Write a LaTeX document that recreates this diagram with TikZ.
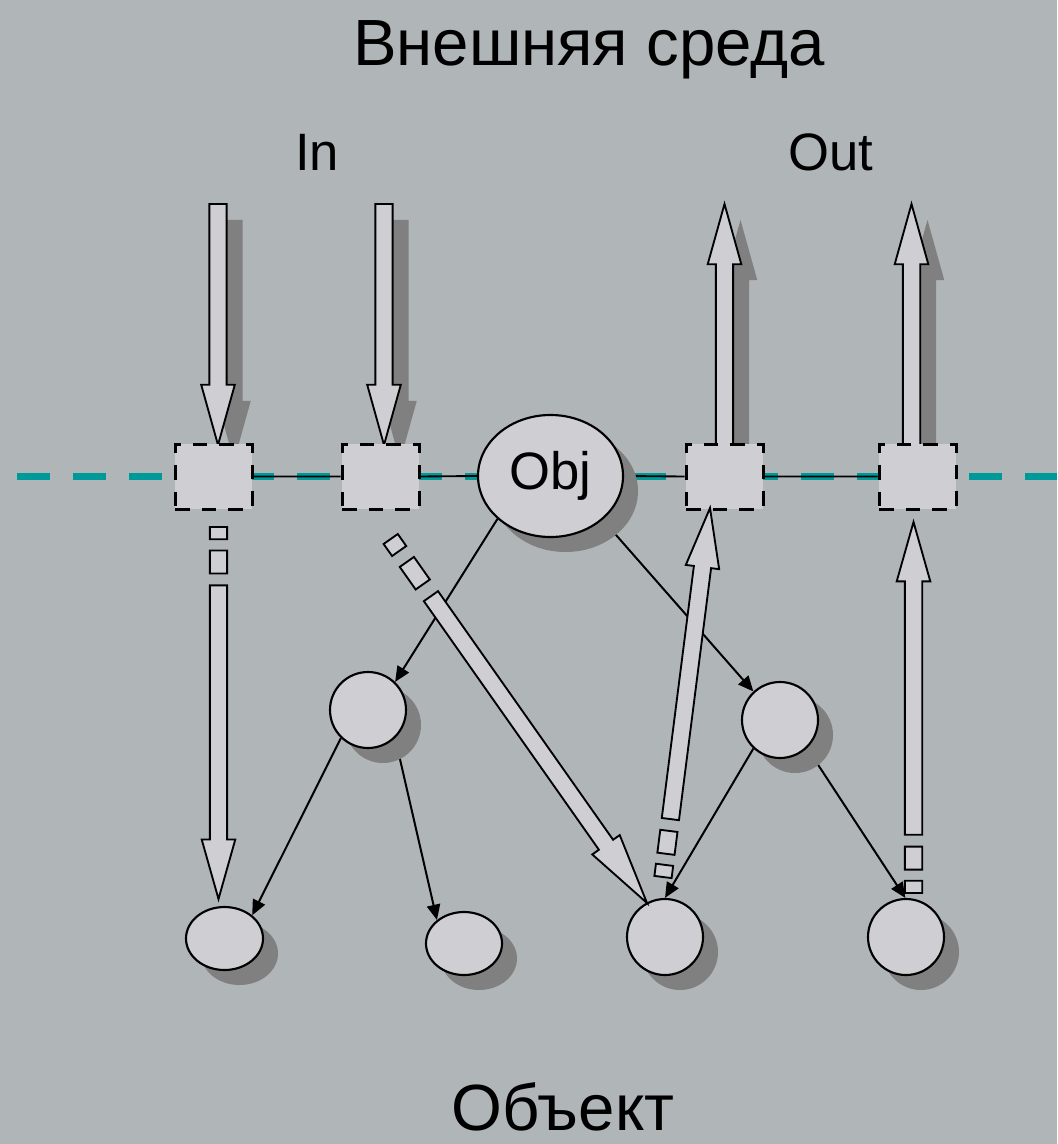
\documentclass[tikz,border=0pt]{standalone}
\usepackage{fontspec}
\setmainfont{Liberation Sans}
\usetikzlibrary{calc,arrows.meta,shadows,shapes.geometric}
\definecolor{bgc}{RGB}{176,181,184}
\definecolor{lite}{RGB}{207,206,210}
\definecolor{shd}{RGB}{128,128,128}
\definecolor{tealc}{RGB}{0,153,153}
\pgfdeclarelayer{bg}
\pgfdeclarelayer{mid}
\pgfsetlayers{bg,mid,main}
\newcommand{\hs}{6.5pt}
\newcommand{\hh}{12.6pt}
\newcommand{\stripedArrow}[2]{%
 \draw[blockst] ($(#1)!\hs!90:(#2)$) -- ($(#1)!0.033!(#2)!\hs!90:(#2)$) -- ($(#1)!0.033!(#2)!\hs!-90:(#2)$) -- ($(#1)!\hs!-90:(#2)$) -- cycle;
 \draw[blockst] ($(#1)!0.063!(#2)!\hs!90:(#2)$) -- ($(#1)!0.125!(#2)!\hs!90:(#2)$) -- ($(#1)!0.125!(#2)!\hs!-90:(#2)$) -- ($(#1)!0.063!(#2)!\hs!-90:(#2)$) -- cycle;
 \draw[blockst] ($(#1)!0.157!(#2)!\hs!90:(#2)$) -- ($(#1)!0.84!(#2)!\hs!90:(#2)$) -- ($(#1)!0.84!(#2)!\hh!90:(#2)$) -- (#2) -- ($(#1)!0.84!(#2)!\hh!-90:(#2)$) -- ($(#1)!0.84!(#2)!\hs!-90:(#2)$) -- ($(#1)!0.157!(#2)!\hs!-90:(#2)$) -- cycle;}
\newcommand{\blockArrow}[3]{%
 \path[#3] ($(#1)!\hs!90:(#2)$) -- ($(#1)!0.75!(#2)!\hs!90:(#2)$) -- ($(#1)!0.75!(#2)!\hh!90:(#2)$) -- (#2) -- ($(#1)!0.75!(#2)!\hh!-90:(#2)$) -- ($(#1)!0.75!(#2)!\hs!-90:(#2)$) -- ($(#1)!\hs!-90:(#2)$) -- cycle;}
\tikzset{
 blockst/.style={draw=black, line width=1.4pt, fill=lite},
 shadowst/.style={fill=shd},
 boxst/.style={draw=black, fill=lite, line width=2.25pt, dash pattern=on 11pt off 9pt, minimum width=57.75pt, minimum height=48.75pt, inner sep=0pt},
 nodest/.style={draw=black, fill=lite, line width=1.6pt, inner sep=0pt, drop shadow={shadow xshift=11.25pt, shadow yshift=-11.25pt, fill=shd, opacity=1}},
 conn/.style={draw=black, line width=1.5pt, -{Triangle[length=11.5pt,width=10pt]}},
 txt/.style={font=\fontsize{39.5}{46}\selectfont, inner sep=0pt, anchor=base},
 bigtxt/.style={font=\fontsize{49}{56}\selectfont, inner sep=0pt, anchor=base},
}
\begin{document}
\begin{tikzpicture}[x=0.75pt, y=-0.75pt]
\useasboundingbox (0,0) rectangle (1057,1144);
% coordinates
\coordinate (tl) at (17,476);
\coordinate (tr) at (1057,476);
\coordinate (u1t) at (218,204);  \coordinate (u1h) at (218,445);
\coordinate (u2t) at (384,204);  \coordinate (u2h) at (384,445);
\coordinate (u3t) at (724.5,445); \coordinate (u3h) at (724.5,204);
\coordinate (u4t) at (911.5,445); \coordinate (u4h) at (911.5,204);
\coordinate (u1ts) at (234,220);  \coordinate (u1hs) at (234,461);
\coordinate (u2ts) at (400,220);  \coordinate (u2hs) at (400,461);
\coordinate (u3ts) at (740.5,461); \coordinate (u3hs) at (740.5,220);
\coordinate (u4ts) at (927.5,461); \coordinate (u4hs) at (927.5,220);
\coordinate (l1t) at (218.5,527); \coordinate (l1h) at (218.5,899);
\coordinate (l2t) at (390.7,539); \coordinate (l2h) at (647,903);
\coordinate (l3t) at (663,877);   \coordinate (l3h) at (710,508);
\coordinate (l4t) at (913.5,893); \coordinate (l4h) at (913.5,522);
% nodes
\node[boxst] (b1) at (213.5,476.5) {};
\node[boxst] (b2) at (380.5,476.5) {};
\node[boxst] (b3) at (724.5,476.5) {};
\node[boxst] (b4) at (917.5,476.5) {};
\node[nodest, ellipse, minimum width=108.75pt, minimum height=91.5pt, font=\fontsize{39.5}{46}\selectfont] (obj) at (550.5,476) {Obj};
\node[nodest, circle, minimum size=57pt] (ml) at (368,710) {};
\node[nodest, circle, minimum size=57pt] (mr) at (780,720) {};
\node[nodest, ellipse, minimum width=57.75pt, minimum height=47.25pt] (e1) at (224.5,938.5) {};
\node[nodest, ellipse, minimum width=57pt, minimum height=47.25pt] (e2) at (464,943.5) {};
\node[nodest, circle, minimum size=57pt] (c3) at (665,937) {};
\node[nodest, circle, minimum size=57pt] (c4) at (906,937) {};
% texts
\node[bigtxt] (title) at (589,66) {Внешняя среда};
\node[txt] (in) at (317,171) {In};
\node[txt] (out) at (831,171) {Out};
\node[bigtxt] (objekt) at (563,1130) {Объект};
\begin{pgfonlayer}{bg}
\fill[bgc] (0,0) rectangle (1057,1144);
\draw[tealc, line width=5.25pt, dash pattern=on 24.75pt off 17.25pt] (tl) -- (tr);
\draw[black, line width=1.4pt] (b1.east) -- (b2.west) (b2.east) -- (obj.west) (obj.east) -- (b3.west) (b3.east) -- (b4.west);
\draw[conn] (obj.219.5) -- (ml.46);
\draw[conn] (obj.-40) -- (mr.133);
\draw[conn] (ml.-134) -- (e1.40);
\draw[conn] (ml.-46) -- (e2.139);
\draw[conn] (mr.-133) -- (c3.90);
\draw[conn] (mr.-46) -- (c4.91);
\end{pgfonlayer}
\begin{pgfonlayer}{mid}
\blockArrow{u1ts}{u1hs}{shadowst}
\blockArrow{u2ts}{u2hs}{shadowst}
\blockArrow{u3ts}{u3hs}{shadowst}
\blockArrow{u4ts}{u4hs}{shadowst}
\blockArrow{u1t}{u1h}{blockst}
\blockArrow{u2t}{u2h}{blockst}
\blockArrow{u3t}{u3h}{blockst}
\blockArrow{u4t}{u4h}{blockst}
\end{pgfonlayer}
\stripedArrow{l1t}{l1h}
\stripedArrow{l2t}{l2h}
\stripedArrow{l3t}{l3h}
\stripedArrow{l4t}{l4h}
\end{tikzpicture}
\end{document}
